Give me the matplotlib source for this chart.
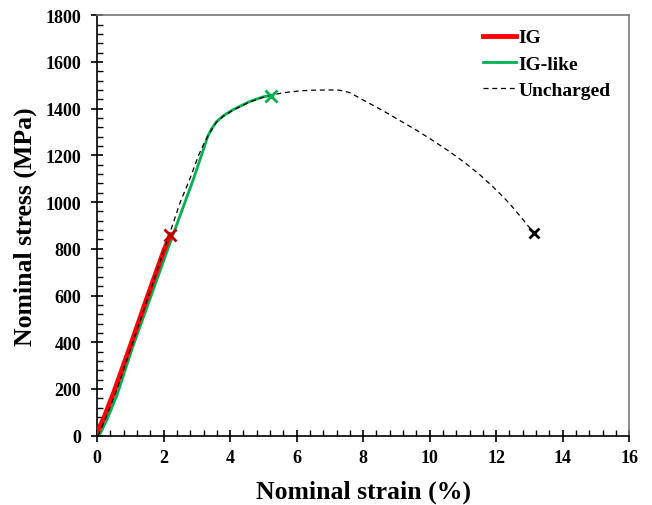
import numpy as np
import matplotlib.pyplot as plt
from matplotlib.ticker import MultipleLocator

plt.rcParams['font.family'] = ['Liberation Serif', 'DejaVu Serif']
plt.rcParams['font.weight'] = 'bold'

# Curvas tensión-deformación nominales (deformación en %, tensión en MPa)
ig_strain = [0.0, 0.2, 0.5, 1.0, 1.5, 2.0, 2.2]
ig_stress = [15, 75, 185, 385, 590, 790, 860]

iglike_strain = [0.06, 0.3, 0.6, 1.07, 1.6, 2.23, 2.9, 3.23, 3.33, 3.45, 3.58,
                 3.8, 4.08, 4.58, 4.98, 5.22]
iglike_stress = [0, 70, 175, 380, 590, 840, 1100, 1240, 1283, 1315, 1343,
                 1370, 1395, 1430, 1450, 1456]

unch_strain = [0.03, 0.3, 0.6, 1.0, 1.5, 2.0, 2.5, 2.79, 3.05, 3.25, 3.4, 3.58,
               3.8, 4.08, 4.58, 4.98, 5.22, 5.6, 6.09, 6.5, 7.0, 7.29, 7.59,
               8.09, 8.6, 9.09, 9.6, 10.09, 10.6, 11.09, 11.5, 11.89, 12.2,
               12.49, 12.8, 13.14]
unch_stress = [0, 90, 200, 370, 580, 790, 1000, 1100, 1200, 1262, 1300, 1340,
               1368, 1393, 1428, 1448, 1457, 1468, 1476, 1479, 1480, 1479, 1469,
               1430, 1391, 1350, 1308, 1264, 1216, 1165, 1118, 1067, 1024,
               979, 926, 866]

fig = plt.figure(figsize=(6.52, 5.06), dpi=100)
ax = fig.add_axes([0.149, 0.137, 0.816, 0.831])

ax.plot(iglike_strain, iglike_stress, color='#00B050', lw=2.0, label='IG-like', zorder=2)
ax.plot(ig_strain, ig_stress, color='#FF0000', lw=3.5, label='IG', zorder=3)
ax.plot(unch_strain, unch_stress, color='black', lw=0.9, ls=(0, (4, 3)),
        label='Uncharged', zorder=4)

# Puntos de fractura
ax.plot(ig_strain[-1], ig_stress[-1], 'x', color='#C00000', ms=8, mew=2, zorder=5)
ax.plot(iglike_strain[-1], iglike_stress[-1], 'x', color='#00B050', ms=8, mew=2, zorder=5)
ax.plot(unch_strain[-1], unch_stress[-1], 'x', color='black', ms=7, mew=2, zorder=5)

ax.set_xlim(0, 16)
ax.set_ylim(0, 1800)
ax.xaxis.set_major_locator(MultipleLocator(2))
ax.xaxis.set_minor_locator(MultipleLocator(0.4))
ax.yaxis.set_major_locator(MultipleLocator(200))
ax.yaxis.set_minor_locator(MultipleLocator(40))
ax.tick_params(which='major', direction='inout', length=9, width=1.2, labelsize=13)
ax.tick_params(axis='y', which='major', pad=7)
ax.tick_params(axis='x', which='major', pad=5)
ax.tick_params(which='minor', direction='in', length=4, width=1.0)
for lab in ax.get_xticklabels() + ax.get_yticklabels():
    lab.set_fontweight('bold')

for s in ['left', 'bottom']:
    ax.spines[s].set_linewidth(1.2)
    ax.spines[s].set_color('black')
for s in ['top', 'right']:
    ax.spines[s].set_linewidth(1.2)
    ax.spines[s].set_color('#777777')

ax.set_xlabel('Nominal strain (%)', fontsize=18.5, fontweight='bold', labelpad=10)
ax.set_ylabel('Nominal stress (MPa)', fontsize=18.5, fontweight='bold', labelpad=6)

handles, labels = ax.get_legend_handles_labels()
order = [1, 0, 2]
ax.legend([handles[i] for i in order], [labels[i] for i in order],
          loc='upper right', frameon=False, fontsize=14, handlelength=1.7,
          handletextpad=0.1, labelspacing=0.45, borderaxespad=0.3,
          bbox_to_anchor=(0.99, 1.0))

fig.savefig('out.png', dpi=100)
